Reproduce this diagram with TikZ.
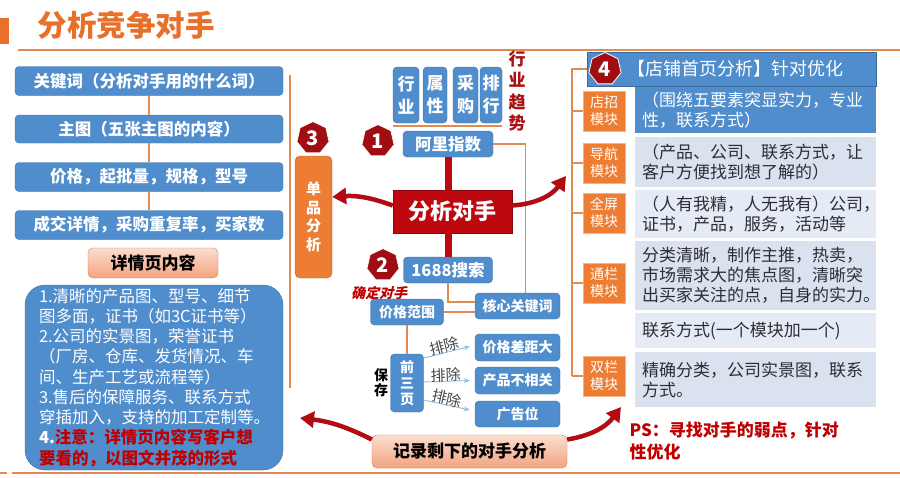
\documentclass[tikz,border=0pt]{standalone}
\usepackage{fontspec}
\setmainfont{Noto Sans CJK SC}
\newfontfamily\slantfont[FakeSlant=0.25]{Noto Sans CJK SC}
\usetikzlibrary{shapes.geometric,arrows.meta}

\definecolor{titleOrange}{RGB}{232,112,42}
\definecolor{lineOrange}{RGB}{226,138,80}
\definecolor{modOrange}{RGB}{236,125,50}
\definecolor{boxBlue}{RGB}{79,141,205}
\definecolor{coreRed}{RGB}{190,8,16}
\definecolor{badgeRed}{RGB}{160,14,20}
\definecolor{arrowRed}{RGB}{178,12,18}
\definecolor{textRed}{RGB}{192,0,0}
\definecolor{trendRed}{RGB}{170,16,20}
\definecolor{rowLight}{RGB}{218,226,239}
\definecolor{rowPale}{RGB}{229,235,244}
\definecolor{rowText}{RGB}{45,45,55}
\definecolor{salmonTop}{RGB}{251,222,205}
\definecolor{salmonBot}{RGB}{243,163,128}
\definecolor{arrowBlue}{RGB}{150,190,225}
\definecolor{excludeGray}{RGB}{70,70,70}

\newcommand\fsz[2]{\fontsize{#1}{#2}\selectfont}

\begin{document}
\begin{tikzpicture}[x=1pt, y=-1pt,
    blueBox/.style={draw=boxBlue!80!black, fill=boxBlue, rounded corners=4pt, text=white, inner sep=0pt, font=\fsz{16.5}{20}\bfseries},
    vBox/.style={blueBox, align=center, minimum height=56pt, font=\fsz{17}{23}\bfseries},
    smallBox/.style={blueBox, minimum width=85pt, minimum height=26pt, font=\fsz{14}{16}\bfseries},
    salmonBox/.style={draw=salmonBot!80!black, top color=salmonTop, bottom color=salmonBot, rounded corners=5pt, inner sep=0pt, font=\fsz{17}{20}\bfseries},
    modBox/.style={fill=modOrange, draw=modOrange!60!white, align=center, text=white, minimum width=42pt, minimum height=40pt, inner sep=0pt, font=\fsz{14}{17}},
    rowBox/.style={minimum width=241pt, text width=227pt, inner xsep=7pt, inner ysep=0pt, align=left, text=rowText, font=\fsz{17}{20}},
    badge/.style={regular polygon, regular polygon sides=7, fill=badgeRed, draw=white, line width=0.8pt, text=white, minimum size=33pt, inner sep=0pt, font=\fsz{20}{20}\bfseries},
    orangeLine/.style={draw=lineOrange, line width=1.8pt},
    bigArrow/.style={draw=arrowRed, line width=4.5pt, -{Triangle[width=16pt,length=14pt]}},
    lightArrow/.style={draw=arrowBlue, line width=0.9pt, -{Stealth[length=6pt,width=5pt]}},
    exclude/.style={font=\fsz{15}{15}, text=excludeGray, sloped, inner sep=0pt, pos=0.48, above=-1pt}]

    \useasboundingbox (0,0) rectangle (900,477);
    \fill[white] (0,0) rectangle (900,477);

    % title
    \fill[titleOrange] (0,18) rectangle (9,44);
    \node[anchor=west, text=titleOrange, font=\fsz{29.5}{32}\bfseries] (title) at (34,25) {分析竞争对手};
    \draw[lineOrange, line width=2pt] (18,50) -- (900,50);
    \draw[lineOrange, line width=2pt] (0,473) -- (7,473);
    \draw[lineOrange, line width=2pt] (12,473) -- (900,473);

    % left column
    \node[blueBox, minimum width=268pt, minimum height=29pt] (kw) at (149,81) {关键词（分析对手用的什么词）};
    \node[blueBox, minimum width=268pt, minimum height=28pt] (mainPic) at (149,129) {主图（五张主图的内容）};
    \node[blueBox, minimum width=268pt, minimum height=29pt] (priceSpec) at (149,177) {价格，起批量，规格，型号};
    \node[blueBox, minimum width=268pt, minimum height=29pt] (dealInfo) at (149,225) {成交详情，采购重复率，买家数};
    \draw[orangeLine] (kw) -- (mainPic);
    \draw[orangeLine] (mainPic) -- (priceSpec);
    \draw[orangeLine] (priceSpec) -- (dealInfo);
    \node[salmonBox, minimum width=130pt, minimum height=30pt] (detailTitle) at (153,263) {详情页内容};
    \node[fill=boxBlue, draw=boxBlue!80!black, rounded corners=20pt, minimum width=258pt, minimum height=185pt,
          text width=230pt, inner sep=0pt, align=left, text=white, font=\fsz{16.5}{20.25}] (detailBody) at (154,377.5)
        {1.清晰的产品图、型号、细节\\
         图多面，证书（如3C证书等）\\
         2.公司的实景图，荣誉证书\\
         （厂房、仓库、发货情况、车\\
         间、生产工艺或流程等）\\
         3.售后的保障服务、联系方式\\
         穿插加入，支持的加工定制等。\\
         {\bfseries 4.}{\color{textRed}\bfseries 注意：详情页内容写客户想}\\
         {\color{textRed}\bfseries 要看的，以图文并茂的形式}};

    \coordinate (sepTop) at (290,75);
    \coordinate (sepBot) at (290,388);
    \draw[orangeLine] (sepTop) -- (sepBot);

    % single item
    \node[fill=modOrange, draw=modOrange!80!black, rounded corners=5pt, minimum width=37pt, minimum height=122pt,
          inner sep=0pt, align=center, text=white, font=\fsz{15}{18.5}\bfseries] (singleItem) at (313.5,217) {单\\品\\分\\析};
    \node[badge] (badgeThree) at (313,138) {3};

    % centre
    \node[vBox, minimum width=26pt] (industry) at (406,95) {行\\业};
    \node[vBox, minimum width=24pt] (attr) at (435,95) {属\\性};
    \node[vBox, minimum width=25pt] (purchase) at (465.5,95) {采\\购};
    \node[vBox, minimum width=22pt] (rank) at (491,95) {排\\行};
    \draw[orangeLine] ([yshift=-3pt]industry.south west) -- ([yshift=-3pt]rank.south east);
    \node[align=center, text=trendRed, font=\fsz{17}{21.5}\bfseries] (trend) at (517,91) {行\\业\\趋\\势};

    \node[blueBox, minimum width=90pt, minimum height=26pt] (aliIndex) at (448,144) {阿里指数};
    \node[badge] (badgeOne) at (378,141) {1};
    \node[fill=coreRed, draw=coreRed!70!black, minimum width=119pt, minimum height=43pt, inner sep=0pt,
          text=white, font=\fsz{22}{24}\bfseries] (core) at (452.5,211.5) {分析对手};
    \node[blueBox, minimum width=89pt, minimum height=26pt] (search1688) at (448,270) {1688搜索};
    \node[badge] (badgeTwo) at (383,265) {2};
    \node[text=textRed, font=\slantfont\fsz{14}{16}\bfseries] (confirm) at (379,293) {确定对手};

    \draw[coreRed, line width=7pt] (aliIndex.south) -- (aliIndex.south |- core.north);
    \draw[coreRed, line width=7pt] (core.south -| search1688) -- (search1688.north);

    \node[smallBox] (keyWord) at (517.5,306) {核心关键词};
    \node[smallBox, minimum width=73pt] (priceRange) at (407,312) {价格范围};
    \node[blueBox, minimum width=33pt, minimum height=58pt, align=center, font=\fsz{14}{16}\bfseries] (topThree) at (407,383) {前\\三\\页};
    \node[align=center, font=\fsz{14}{15}\bfseries] (keep) at (381,383) {保\\存};
    \node[smallBox, minimum height=27pt] (gap) at (517.5,347.5) {价格差距大};
    \node[smallBox, minimum height=27pt] (unrelated) at (517.5,380.5) {产品不相关};
    \node[smallBox] (adSpot) at (517.5,414) {广告位};

    \draw[orangeLine] (aliIndex.east) -| ([xshift=8pt]keyWord.north);
    \draw[orangeLine] (search1688.south) |- ([yshift=4pt]keyWord.west);
    \draw[orangeLine] (priceRange.east) -- (priceRange.east -| keyWord.west);
    \draw[orangeLine] (priceRange) -- (topThree);

    \draw[lightArrow] ([yshift=25pt]topThree.east) -- ([xshift=-5pt,yshift=1pt]gap.west) node[exclude] (exOne) {排除};
    \draw[lightArrow] ([yshift=1pt]topThree.east) -- ([xshift=-5pt]unrelated.west) node[exclude] (exTwo) {排除};
    \draw[lightArrow] ([yshift=-17pt]topThree.east) -- ([xshift=-5pt,yshift=4pt]adSpot.west) node[exclude] (exThree) {排除};

    \node[salmonBox, minimum width=195pt, minimum height=33pt] (record) at (469.5,451.5) {记录剩下的对手分析};

    % right panel
    \node[fill=boxBlue, draw=boxBlue!75!black, minimum width=289pt, minimum height=34pt, inner sep=0pt,
          text=white, font=\fsz{18}{20}] (header) at (731.5,69) {\hspace*{7pt}【店铺首页分析】针对优化};
    \node[badge] (badgeFour) at (605,69) {4};

    \node[rowBox, fill=boxBlue, text=white, minimum height=46pt] (rowShop) at (755.5,110) {（围绕五要素突显实力，专业\\性，联系方式）};
    \node[rowBox, fill=rowLight, minimum height=50pt] (rowNav) at (755.5,162) {（产品、公司、联系方式，让\\客户方便找到想了解的）};
    \node[rowBox, fill=rowPale, minimum height=48pt] (rowFull) at (755.5,214) {（人有我精，人无我有）公司，\\证书，产品，服务，活动等};
    \node[rowBox, fill=rowLight, minimum height=69pt] (rowBanner) at (755.5,275.5) {分类清晰，制作主推，热卖，\\市场需求大的焦点图，清晰突\\出买家关注的点，自身的实力。};
    \node[rowBox, fill=rowPale, minimum height=35pt] (rowContact) at (755.5,330.5) {联系方式(一个模块加一个)};
    \node[rowBox, fill=rowLight, minimum height=55pt] (rowDouble) at (755.5,379.5) {精确分类，公司实景图，联系\\方式。\\[6pt]};

    \node[modBox] (modShop) at (604,111) {店招\\模块};
    \node[modBox] (modNav) at (604,163) {导航\\模块};
    \node[modBox] (modFull) at (604,213) {全屏\\模块};
    \node[modBox] (modBanner) at (604,283) {通栏\\模块};
    \node[modBox] (modDouble) at (604,376) {双栏\\模块};

    \coordinate (rTop) at (572,69);
    \coordinate (rBot) at (572,376);
    \draw[orangeLine] (header.west) -- (rTop) -- (rBot);
    \foreach \m in {modShop,modNav,modFull,modBanner,modDouble}
        \draw[orangeLine] (\m.west) -- (\m.west -| rTop);

    \node[anchor=west, align=left, text=textRed, font=\fsz{17}{22}\bfseries] (ps) at (626,441) {PS：寻找对手的弱点，针对\\性优化};

    % big arrows
    \coordinate (tipRight) at (566,176);
    \coordinate (tipLeftLow) at (300,418);
    \coordinate (tipRightLow) at (621,407);
    \draw[bigArrow] ([yshift=6pt]core.west) to[bend right=12] ([yshift=20pt]singleItem.east);
    \draw[bigArrow] ([yshift=6pt]core.east) to[bend right=25] (tipRight);
    \draw[bigArrow] ([yshift=12pt]record.west) to[bend right=10] (tipLeftLow);
    \draw[bigArrow] ([yshift=12pt]record.east) to[bend right=22] (tipRightLow);
\end{tikzpicture}
\end{document}
